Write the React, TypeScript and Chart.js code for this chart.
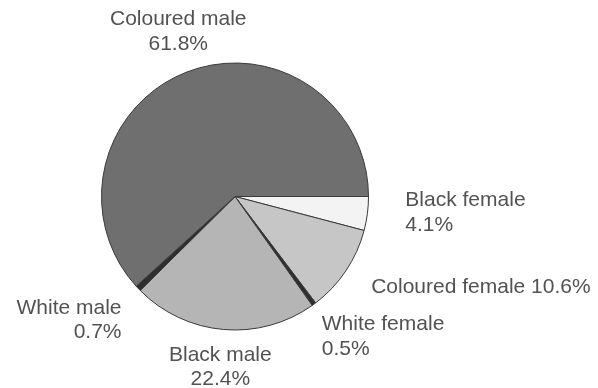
import React, { useEffect, useRef } from "react";
import { Chart, registerables } from "chart.js";

Chart.register(...registerables);

const categories = ["Black female", "Coloured female", "White female", "Black male", "White male", "Coloured male"];
const percentages = [4.1, 10.6, 0.5, 22.4, 0.7, 61.8];
const valueLabels = ["4.1%", "10.6%", "0.5%", "22.4%", "0.7%", "61.8%"];
const sliceColors = ["#f3f3f3", "#c6c6c6", "#2e2e2e", "#b5b5b5", "#2e2e2e", "#6f6f6f"];

// label layout: offsets relative to pie centre, in units of the radius
const labelLayout = [
  { fx: 1.276, fy: 0.12, align: "left", oneLine: false },
  { fx: 1.02, fy: 0.68, align: "left", oneLine: true },
  { fx: 0.65, fy: 1.05, align: "left", oneLine: false },
  { fx: -0.11, fy: 1.28, align: "center", oneLine: false },
  { fx: -0.85, fy: 0.925, align: "right", oneLine: false },
  { fx: -0.425, fy: -1.235, align: "center", oneLine: false },
];

const labelPlugin = {
  id: "outerLabels",
  afterDraw(chart: any) {
    const meta = chart.getDatasetMeta(0);
    const ctx = chart.ctx;
    const first = meta.data[0];
    const cx = first.x;
    const cy = first.y;
    const r = first.outerRadius;
    ctx.save();
    ctx.fillStyle = "#525252";
    ctx.font = "21px 'Liberation Sans', Arial, sans-serif";
    ctx.textBaseline = "middle";
    meta.data.forEach((_arc: any, i: number) => {
      const l = labelLayout[i];
      const lines = l.oneLine ? [categories[i] + " " + valueLabels[i]] : [categories[i], valueLabels[i]];
      const x = cx + l.fx * r;
      const y0 = cy + l.fy * r;
      ctx.textAlign = l.align;
      lines.forEach((t: string, k: number) => {
        ctx.fillText(t, x, y0 + (k - (lines.length - 1) / 2) * 24.5);
      });
    });
    ctx.restore();
  },
};

export default function App() {
  const ref = useRef<HTMLCanvasElement>(null);
  useEffect(() => {
    document.body.style.margin = "0";
    const chart = new Chart(ref.current!, {
      type: "pie",
      data: {
        labels: categories,
        datasets: [
          {
            data: percentages,
            backgroundColor: sliceColors,
            borderColor: "#3a3a3a",
            borderWidth: 1,
          },
        ],
      },
      options: {
        animation: false,
        responsive: false,
        rotation: 90,
        layout: { padding: { top: 62, bottom: 57, left: 101, right: 229 } },
        plugins: { legend: { display: false }, tooltip: { enabled: false } },
      },
      plugins: [labelPlugin],
    });
    return () => chart.destroy();
  }, []);
  return (
    <div style={{ width: 598, height: 388, background: "#fff" }}>
      <canvas ref={ref} width={598} height={388} />
    </div>
  );
}
